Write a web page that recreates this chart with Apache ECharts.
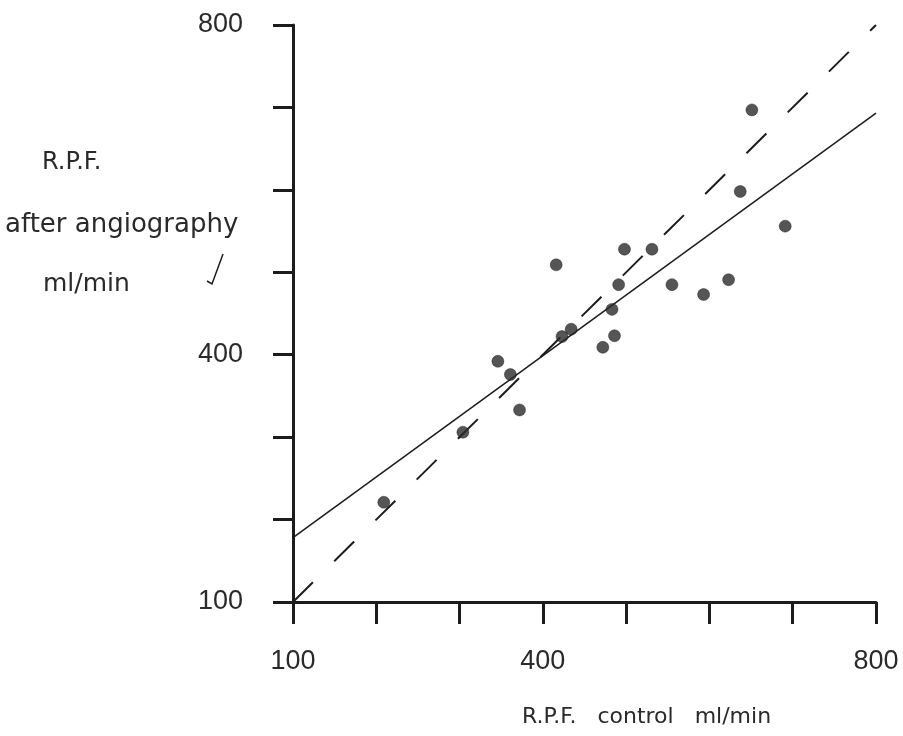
<!DOCTYPE html>
<html>
<head>
<meta charset="utf-8">
<script src="https://cdn.jsdelivr.net/npm/echarts@6/dist/echarts.min.js"></script>
<style>
  html, body { margin: 0; padding: 0; background: #ffffff; }
  #chart { width: 903px; height: 736px; }
</style>
</head>
<body>
<div id="chart"></div>
<script>
// R.P.F. control (ml/min) for each patient
var controlRPF = [209, 304, 346, 361, 372, 416, 423, 434, 472, 483, 486, 491, 498, 531, 555, 593, 623, 637, 651, 691];
// R.P.F. after angiography (ml/min)
var afterRPF   = [221, 306, 392, 376, 333, 509, 422, 431, 409, 455, 423, 485, 528, 528, 485, 473, 491, 598, 697, 556];
// regression line end points
var fitX = [100, 800];
var fitY = [178, 693];
// line of identity end points
var identityX = [100, 800];
var identityY = [100, 800];
// labelled ticks
var xTickLabels = [100, 400, 800];
var yTickLabels = [100, 400, 800];

var INK = '#1c1c1c';
var TEXTINK = '#2a2a2a';
var NUMFONT = 'Liberation Sans';
var TITLEFONT = '"DejaVu Sans"';

function pairs(xs, ys) { return xs.map(function (x, i) { return [x, ys[i]]; }); }

var chart = echarts.init(document.getElementById('chart'), null, { renderer: 'canvas' });

var axisCommon = {
  type: 'value', min: 100, max: 800, interval: 100,
  splitLine: { show: false },
  axisLine: { show: true, lineStyle: { color: INK, width: 3 } }
};

chart.setOption({
  backgroundColor: '#ffffff',
  animation: false,
  grid: { left: 293, right: 27, top: 25, bottom: 134, containLabel: false },
  xAxis: Object.assign({}, axisCommon, {
    axisTick: { show: true, inside: false, length: 22, lineStyle: { color: INK, width: 3 } },
    axisLabel: {
      margin: 46, color: TEXTINK, fontFamily: NUMFONT, fontSize: 27,
      formatter: function (v) { return xTickLabels.indexOf(v) >= 0 ? String(v) : ''; }
    }
  }),
  yAxis: Object.assign({}, axisCommon, {
    axisTick: { show: true, inside: false, length: 20, lineStyle: { color: INK, width: 3 } },
    axisLabel: {
      margin: 50, color: TEXTINK, fontFamily: NUMFONT, fontSize: 27,
      formatter: function (v) { return yTickLabels.indexOf(v) >= 0 ? String(v) : ''; }
    }
  }),
  graphic: [
    { type: 'text', left: 42, top: 151, style: { text: 'R.P.F.', font: '24px ' + TITLEFONT, fill: TEXTINK } },
    { type: 'text', left: 5, top: 212, style: { text: 'after angiography', font: '26px ' + TITLEFONT, fill: TEXTINK } },
    { type: 'text', left: 43, top: 272, style: { text: 'ml/min', font: '25px ' + TITLEFONT, fill: TEXTINK } },
    { type: 'polyline', shape: { points: [[223, 254], [212, 284], [207, 281]] }, style: { stroke: INK, lineWidth: 1.5, fill: null } },
    { type: 'text', left: 522, top: 706, style: { text: 'R.P.F.   control   ml/min', font: '22px ' + TITLEFONT, fill: TEXTINK } }
  ],
  series: [
    {
      type: 'line', data: pairs(identityX, identityY), showSymbol: false, symbol: 'none',
      lineStyle: { color: INK, width: 2, type: [28, 30] }, z: 2
    },
    {
      type: 'line', data: pairs(fitX, fitY), showSymbol: false, symbol: 'none',
      lineStyle: { color: INK, width: 1.5 }, z: 2
    },
    {
      type: 'scatter', data: pairs(controlRPF, afterRPF), symbol: 'circle', symbolSize: 12,
      itemStyle: { color: '#2a2a2a', borderColor: '#111', borderWidth: 0.5 }, z: 3
    }
  ]
});
</script>
</body>
</html>
